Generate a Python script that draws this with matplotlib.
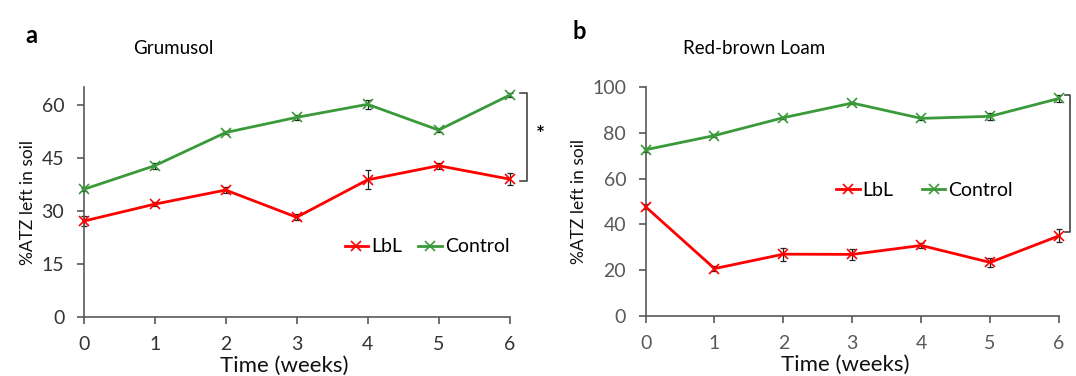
import matplotlib
matplotlib.use("Agg")
import matplotlib.pyplot as plt

plt.rcParams["font.family"] = ["Lato", "DejaVu Sans"]

weeks = [0, 1, 2, 3, 4, 5, 6]

# Panel a: Grumusol
grum_lbl = [27.1, 31.9, 35.9, 28.2, 38.8, 42.8, 39.0]
grum_lbl_err = [1.5, 0.6, 0.9, 0.8, 2.7, 0.9, 1.6]
grum_ctrl = [36.1, 42.8, 52.2, 56.5, 60.2, 52.9, 62.8]
grum_ctrl_err = [0.5, 0.8, 0.5, 0.8, 1.3, 0.5, 0.5]

# Panel b: Red-brown Loam
loam_lbl = [47.7, 20.7, 27.0, 26.9, 30.8, 23.4, 35.0]
loam_lbl_err = [1.0, 1.0, 2.8, 2.5, 1.0, 2.0, 2.8]
loam_ctrl = [72.6, 78.8, 86.6, 93.0, 86.3, 87.2, 95.0]
loam_ctrl_err = [0.8, 0.5, 0.5, 0.5, 0.5, 1.5, 1.5]

RED = "#ff0000"
GREEN = "#3a9a3a"
AXC = "#595959"

fig = plt.figure(figsize=(10.76, 3.76), dpi=100)
ax_a = fig.add_axes([0.0778, 0.1577, 0.3958, 0.6099])
ax_b = fig.add_axes([0.600, 0.1596, 0.3842, 0.6090])


def draw_panel(ax, lbl, lbl_err, ctrl, ctrl_err, ymax, yticks, tcol, xlab_x):
    for vals, errs, col, name in [(lbl, lbl_err, RED, "LbL"),
                                  (ctrl, ctrl_err, GREEN, "Control")]:
        ax.errorbar(weeks, vals, yerr=errs, fmt="none", ecolor="#222222",
                    elinewidth=0.9, capsize=2.5, capthick=0.9, clip_on=False,
                    zorder=2)
        ax.plot(weeks, vals, color=col, lw=2.0, marker="x", ms=7, mew=1.2,
                label=name, clip_on=False, zorder=3)
    ax.set_xlim(0, 6)
    ax.set_ylim(0, ymax)
    ax.set_yticks(yticks)
    ax.set_xticks(weeks)
    for s in ["top", "right"]:
        ax.spines[s].set_visible(False)
    for s in ["left", "bottom"]:
        ax.spines[s].set_color(AXC)
        ax.spines[s].set_linewidth(1.2)
    ax.tick_params(axis="both", direction="out", length=5, width=1.2,
                   color=AXC, labelsize=14, labelcolor=tcol)
    ax.tick_params(axis="x", pad=9)
    ax.tick_params(axis="y", pad=9)
    ax.set_xlabel("Time (weeks)", fontsize=16, color="#111111")
    ax.xaxis.set_label_coords(xlab_x, -0.17)
    ax.set_ylabel("%ATZ left in soil", fontsize=12.5, color="#111111")


draw_panel(ax_a, grum_lbl, grum_lbl_err, grum_ctrl, grum_ctrl_err, 65,
           [0, 15, 30, 45, 60], "#333333", 0.47)
draw_panel(ax_b, loam_lbl, loam_lbl_err, loam_ctrl, loam_ctrl_err, 100,
           [0, 20, 40, 60, 80, 100], "#595959", 0.482)

ax_a.legend(loc="center", bbox_to_anchor=(0.806, 0.304), ncol=2, frameon=False,
            fontsize=14, handlelength=1.2, handletextpad=0.15,
            columnspacing=0.85)
ax_b.legend(loc="center", bbox_to_anchor=(0.675, 0.55), ncol=2, frameon=False,
            fontsize=14, handlelength=1.2, handletextpad=0.15,
            columnspacing=1.45)

# significance brackets
ax_a.plot([6.14, 6.24, 6.24, 6.14], [63.4, 63.4, 38.5, 38.5], color="#444444",
          lw=1.2, clip_on=False)
ax_a.text(6.43, 51.5, "*", fontsize=15, fontweight="bold", ha="center",
          va="center")
ax_b.plot([6.08, 6.16, 6.16, 6.08], [96.5, 96.5, 36.7, 36.7], color="#444444",
          lw=1.2, clip_on=False)

# panel letters and titles
fig.text(0.024, 0.905, "a", fontsize=17, fontweight="bold", va="center")
fig.text(0.124, 0.872, "Grumusol", fontsize=13.5, va="center")
fig.text(0.532, 0.915, "b", fontsize=17, fontweight="bold", va="center")
fig.text(0.635, 0.872, "Red-brown Loam", fontsize=13.5, va="center")

fig.savefig("out.png", dpi=100)
